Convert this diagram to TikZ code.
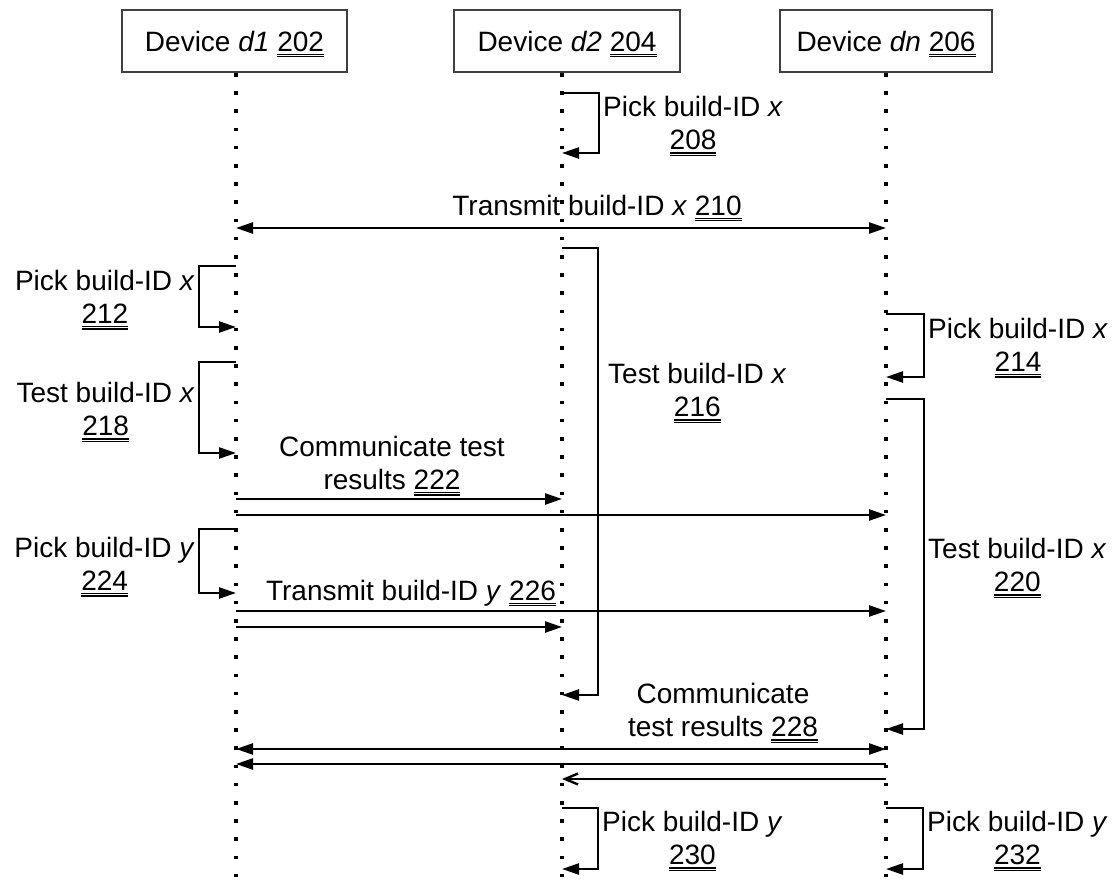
\documentclass[tikz,border=0pt]{standalone}
\usepackage{fontspec}
\setmainfont{Liberation Sans}
\usetikzlibrary{arrows.meta}

\newcommand{\refnum}[1]{\leavevmode\vtop{\hbox{#1}\kern2.5pt\hrule height 1.2pt\kern1pt\hrule height 1.2pt}}

\tikzset{
  msg/.style={line width=2.4pt,-{Triangle[length=17pt,width=11pt]}},
  reply/.style={line width=2.4pt,-{Straight Barb[length=13pt,width=11pt]}},
  life/.style={line width=3.6pt,dash pattern=on 3.6pt off 14.6pt},
  devbox/.style={draw=black!75,line width=1.6pt,minimum height=62pt,inner sep=0pt,text depth=0pt},
  lbl/.style={align=center,inner sep=4pt},
}

\begin{document}
\begin{tikzpicture}[x=1pt,y=-1pt,font=\fontsize{28}{33}\selectfont]
\useasboundingbox (0,0) rectangle (1117,888);
% devices
\node[devbox,minimum width=225pt] (d1) at (234.5,41) {Device \textit{d1} \refnum{202}};
\node[devbox,minimum width=226pt] (d2) at (567,41) {Device \textit{d2} \refnum{204}};
\node[devbox,minimum width=212pt] (dn) at (886,41) {Device \textit{dn} \refnum{206}};
\coordinate (l1) at (236,73);
\coordinate (l2) at (562,73);
\coordinate (l3) at (886,73);
\foreach \l in {l1,l2,l3}
  \draw[life] (\l) -- (\l |- 0,888);
% d2 picks x and sends it
\draw[msg] (l2 |- 0,93) -- ++(37,0) |- (l2 |- 0,153);
\node[lbl,anchor=west] (t208) at (599,126) {Pick build-ID \textit{x}\\\refnum{208}};
\draw[msg] (l2 |- 0,228) -- (l1 |- 0,228);
\draw[msg] (l2 |- 0,228) -- (l3 |- 0,228);
\node[anchor=base] (t210) at (597,215) {Transmit build-ID \textit{x} \refnum{210}};
% tests of x
\draw[msg] (l2 |- 0,248) -- ++(36,0) |- (l2 |- 0,695);
\node[lbl,anchor=west] (t216) at (604,393) {Test build-ID \textit{x}\\\refnum{216}};
\draw[msg] (l1 |- 0,266) -- ++(-37,0) |- (l1 |- 0,327);
\node[lbl,anchor=east] (t212) at (199,300) {Pick build-ID \textit{x}\\\refnum{212}};
\draw[msg] (l3 |- 0,314) -- ++(38,0) |- (l3 |- 0,377);
\node[lbl,anchor=west] (t214) at (924,348) {Pick build-ID \textit{x}\\\refnum{214}};
\draw[msg] (l1 |- 0,362) -- ++(-37,0) |- (l1 |- 0,453);
\node[lbl,anchor=east] (t218) at (199,412) {Test build-ID \textit{x}\\\refnum{218}};
\draw[msg] (l3 |- 0,399) -- ++(38,0) |- (l3 |- 0,729);
\node[lbl,anchor=west] (t220) at (924,568) {Test build-ID \textit{x}\\\refnum{220}};
% d1 results and y
\node[lbl] (t222) at (392,466) {Communicate test\\results \refnum{222}};
\draw[msg] (l1 |- 0,499) -- (l2 |- 0,499);
\draw[msg] (l1 |- 0,515) -- (l3 |- 0,515);
\draw[msg] (l1 |- 0,529) -- ++(-37,0) |- (l1 |- 0,593);
\node[lbl,anchor=east] (t224) at (199,567) {Pick build-ID \textit{y}\\\refnum{224}};
\node[anchor=base] (t226) at (411,600) {Transmit build-ID \textit{y} \refnum{226}};
\draw[msg] (l1 |- 0,611) -- (l3 |- 0,611);
\draw[msg] (l1 |- 0,627) -- (l2 |- 0,627);
% d2 and dn results
\node[lbl] (t228) at (723,713) {Communicate\\test results \refnum{228}};
\draw[msg] (l2 |- 0,749) -- (l1 |- 0,749);
\draw[msg] (l2 |- 0,749) -- (l3 |- 0,749);
\draw[msg] (l3 |- 0,764) -- (l1 |- 0,764);
\draw[reply] (l3 |- 0,779) -- (l2 |- 0,779);
% y picked
\draw[msg] (l2 |- 0,808) -- ++(36,0) |- (l2 |- 0,869);
\node[lbl,anchor=west] (t230) at (598,841) {Pick build-ID \textit{y}\\\refnum{230}};
\draw[msg] (l3 |- 0,808) -- ++(37,0) |- (l3 |- 0,869);
\node[lbl,anchor=west] (t232) at (923,841) {Pick build-ID \textit{y}\\\refnum{232}};
\end{tikzpicture}
\end{document}
